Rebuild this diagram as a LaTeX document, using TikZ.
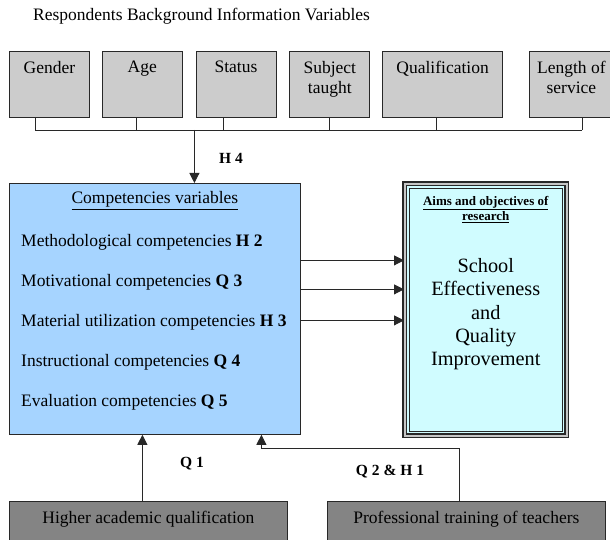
\documentclass[tikz,border=0pt]{standalone}
\usepackage{fontspec}
\setmainfont{Liberation Serif}
\usetikzlibrary{
    positioning,      % For placing nodes relative to each other (e.g., right=of)
    arrows.meta       % For the filled triangle arrow tips
}

% Fill and outline colours
\definecolor{line_dark}{RGB}{40,40,40}
\definecolor{var_gray}{RGB}{204,204,204}
\definecolor{comp_blue}{RGB}{166,212,255}
\definecolor{aims_cyan}{RGB}{208,252,255}
\definecolor{base_gray}{RGB}{132,132,132}

\begin{document}
\begin{tikzpicture}[
    % One unit is one point, y grows downwards
    x=1pt, y=-1pt,
    % Style for the connecting lines
    link_line/.style={
        draw=line_dark,
        line width=0.9pt
    },
    % Style for arrowheads
    arrow_tip/.style={
        -{Triangle[length=10pt, width=10pt]}
    },
    % Grey boxes of the background variables
    var_box/.style={
        draw=line_dark, line width=0.8pt, fill=var_gray,
        minimum width=#1, minimum height=66pt, inner sep=0pt
    },
    % Text hanging from the top edge of a box
    box_text/.style={
        anchor=north, yshift=-10pt, inner sep=0pt, align=center,
        font=\fontsize{17.5}{20}\selectfont
    },
    % Lines of text inside the competencies box
    comp_text/.style={
        anchor=base west, inner sep=0pt,
        font=\fontsize{17.5}{20}\selectfont
    },
    % Bold hypothesis / question labels
    hyp_label/.style={
        inner sep=1pt,
        font=\fontsize{15.5}{18}\selectfont\bfseries
    },
    % Dark boxes at the bottom
    base_box/.style={
        draw=line_dark, line width=0.8pt, fill=base_gray,
        minimum width=278pt, minimum height=40pt, inner sep=0pt,
        anchor=north west
    }
]
    \useasboundingbox (0,0) rectangle (610,540);

    % 1. Heading and the row of background variables.
    \node[comp_text] (title) at (33,21) {Respondents Background Information Variables};

    \node[var_box=80pt, anchor=north west,
          label={[box_text, name=gender_text]north:Gender}] (gender) at (9,51) {};
    \node[var_box=80pt, right=12pt of gender,
          label={[box_text, name=age_text]north:Age}] (age) {};
    \node[var_box=80pt, right=13pt of age,
          label={[box_text, name=status_text]north:Status}] (status) {};
    \node[var_box=80pt, right=13pt of status,
          label={[box_text, name=subject_text]north:Subject\\taught}] (subject) {};
    \node[var_box=120pt, right=12pt of subject,
          label={[box_text, name=qualification_text]north:Qualification}] (qualification) {};
    \node[var_box=84pt, right=26pt of qualification,
          label={[box_text, name=length_text]north:Length of\\service}] (length) {};

    % 2. Competencies box with its heading and five lines.
    \node[draw=line_dark, line width=0.8pt, fill=comp_blue, anchor=north west,
          minimum width=291pt, minimum height=251pt, inner sep=0pt] (competencies) at (9,183) {};
    \node[comp_text, anchor=base, yshift=-21pt] (comp_heading) at (competencies.north)
        {\underline{Competencies variables}};
    \node[comp_text] (methodological) at (21,246) {Methodological competencies \textbf{H 2}};
    \node[below=40pt of methodological.base west, comp_text] (motivational)
        {Motivational competencies \textbf{Q 3}};
    \node[below=40pt of motivational.base west, comp_text] (material)
        {Material utilization competencies \textbf{H 3}};
    \node[below=40pt of material.base west, comp_text] (instructional)
        {Instructional competencies \textbf{Q 4}};
    \node[below=40pt of instructional.base west, comp_text] (evaluation)
        {Evaluation competencies \textbf{Q 5}};

    % 3. Aims box with its triple frame.
    \node[draw=line_dark, line width=1.5pt, double=gray!45, double distance=2pt,
          fill=aims_cyan, anchor=north west, minimum width=162pt, minimum height=252pt,
          inner sep=0pt] (aims) at (404,183) {};
    \draw[line_dark, line width=0.9pt]
        ([shift={(5pt,5pt)}]aims.south west) rectangle ([shift={(-5pt,-5pt)}]aims.north east);
    \node[anchor=north, yshift=-11pt, inner sep=2pt, align=center,
          font=\fontsize{13}{15}\selectfont\bfseries] (aims_heading) at (aims.north)
        {\underline{Aims and objectives of}\\\underline{research}};
    \node[align=center, inner sep=0pt, yshift=-4.5pt,
          font=\fontsize{20.3}{23.3}\selectfont] (aims_body) at (aims.center)
        {School\\Effectiveness\\and\\Quality\\Improvement};

    % 4. Bottom boxes.
    \node[base_box, label={[box_text, name=higher_text]north:Higher academic qualification}]
        (higher) at (9,501) {};
    \node[base_box, label={[box_text, name=training_text]north:Professional training of teachers}]
        (training) at (327,501) {};

    % 5. Bus line under the variables and the arrow into the competencies box.
    \coordinate (bus) at (0,130);
    \draw[link_line] ([xshift=-14pt]gender.south) coordinate (gender_stub) -- (gender_stub |- bus);
    \draw[link_line] ([xshift=-6pt]age.south) coordinate (age_stub) -- (age_stub |- bus);
    \draw[link_line] ([xshift=-13pt]status.south) coordinate (status_stub) -- (status_stub |- bus);
    \draw[link_line] (subject.south) coordinate (subject_stub) -- (subject_stub |- bus);
    \draw[link_line] ([xshift=-6pt]qualification.south) coordinate (qualification_stub) -- (qualification_stub |- bus);
    \draw[link_line] ([xshift=11pt]length.south) coordinate (length_stub) -- (length_stub |- bus);
    \draw[link_line] (gender_stub |- bus) -- (length_stub |- bus);

    \coordinate (h4_drop) at ([xshift=39.5pt]competencies.north);
    \draw[link_line, arrow_tip] (h4_drop |- bus) -- (h4_drop);
    \node[hyp_label] (h4_label) at (231,158) {H 4};

    % 6. Three arrows from the competencies to the aims.
    \coordinate (out_one) at ([yshift=48.5pt]competencies.east);
    \coordinate (out_two) at ([yshift=19.5pt]competencies.east);
    \coordinate (out_three) at ([yshift=-11.5pt]competencies.east);
    \draw[link_line, arrow_tip] (out_one) -- (out_one -| aims.west);
    \draw[link_line, arrow_tip] (out_two) -- (out_two -| aims.west);
    \draw[link_line, arrow_tip] (out_three) -- (out_three -| aims.west);

    % 7. Arrows rising from the bottom boxes.
    \coordinate (q1_rise) at ([xshift=-6pt]higher.north);
    \draw[link_line, arrow_tip] (q1_rise) -- (q1_rise |- competencies.south);
    \node[hyp_label] (q1_label) at (192,464) {Q 1};

    \coordinate (q2_rise) at ([xshift=-7pt]training.north);
    \coordinate (q2_entry) at ([xshift=106.5pt]competencies.south);
    \draw[link_line, arrow_tip] (q2_rise) |- ([yshift=-14pt]q2_entry) -- (q2_entry);
    \node[hyp_label] (q2_label) at (390,472) {Q 2 \& H 1};

\end{tikzpicture}
\end{document}
